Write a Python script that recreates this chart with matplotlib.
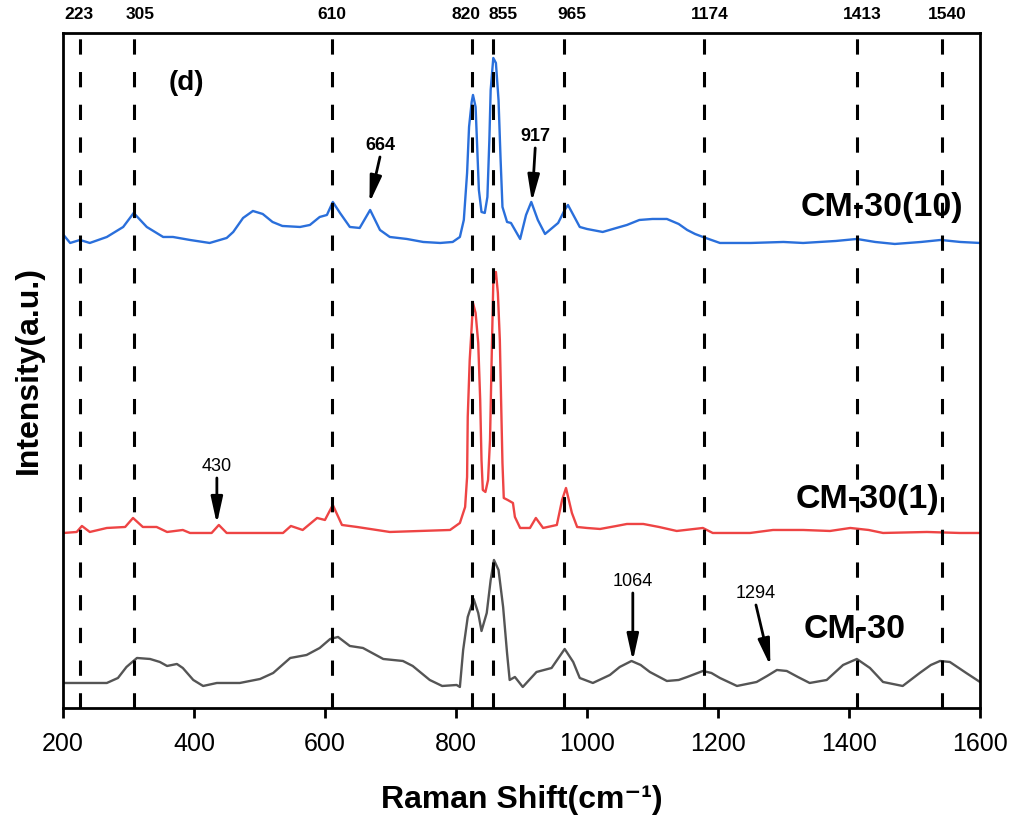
import numpy as np
import matplotlib
matplotlib.use('Agg')
import matplotlib.pyplot as plt

plt.rcParams['font.family'] = ['Liberation Sans', 'DejaVu Sans']

# Raman shift (cm-1) / stacked intensity (arbitrary units)
shift_10 = [201, 211, 226, 241, 267, 292, 308, 328, 353, 368, 394, 424, 450, 460, 475,
            490, 505, 520, 535, 562, 577, 592, 603, 612, 623, 638, 653, 669, 684, 699,
            725, 750, 776, 795, 806, 812, 817, 820, 824, 826, 830, 832, 835, 839, 844,
            848, 851, 853, 857, 861, 865, 868, 871, 878, 884, 898, 907, 915, 925, 936,
            956, 966, 971, 989, 1000, 1024, 1045, 1061, 1080, 1100, 1122, 1140, 1153,
            1165, 1177, 1190, 1203, 1250, 1300, 1330, 1380, 1412, 1440, 1470, 1510,
            1540, 1570, 1600]
int_10 = [473, 465, 468, 465, 471, 481, 495, 481, 471, 471, 468, 465, 470, 476, 490,
          497, 494, 486, 482, 481, 483, 491, 493, 506, 495, 481, 480, 498, 478, 471,
          469, 466, 465, 466, 471, 488, 535, 581, 606, 613, 601, 568, 518, 496, 495,
          511, 568, 618, 650, 645, 608, 551, 501, 486, 485, 469, 493, 506, 488, 474,
          485, 498, 503, 481, 479, 476, 480, 483, 488, 489, 489, 484, 478,
          474, 471, 468, 465, 465, 466, 465, 467, 469, 466, 464, 466,
          468, 466, 465]

shift_1 = [201, 221, 229, 241, 267, 295, 307, 322, 343, 359, 383, 394, 427, 438, 450,
           536, 548, 566, 588, 600, 612, 626, 649, 699, 791, 806, 814, 817, 818, 821,
           824, 826, 830, 834, 837, 839, 841, 845, 849, 852, 855, 857, 861, 864, 867,
           869, 871, 873, 879, 887, 890, 898, 913, 922, 933, 954, 962, 968, 977, 985,
           1000, 1020, 1045, 1061, 1086, 1110, 1137, 1177, 1192, 1249, 1284, 1330,
           1371, 1402, 1430, 1452, 1519, 1569, 1600]
int_1 = [175, 176, 182, 176, 180, 181, 190, 181, 181, 176, 178, 175, 175, 183, 175,
         175, 182, 178, 190, 188, 203, 183, 181, 176, 178, 185, 201, 231, 291, 348,
         381, 405, 395, 365, 308, 248, 218, 216, 228, 268, 365, 425, 436, 415, 368,
         305, 245, 210, 208, 205, 191, 180, 180, 190, 180, 183, 208, 220, 195, 181,
         180, 179, 182, 184, 184, 181, 177, 180, 175, 175, 178, 178,
         177, 180, 178, 175, 176, 175, 175]

shift_0 = [200, 226, 267, 284, 297, 313, 333, 348, 359, 374, 383, 399, 414, 435, 470,
           501, 521, 547, 572, 592, 608, 620, 638, 658, 689, 719, 734, 760, 779, 801,
           806, 811, 818, 827, 834, 839, 847, 853, 858, 865, 872, 878, 882, 890, 902,
           923, 946, 966, 979, 989, 1009, 1035, 1050, 1068, 1082, 1096, 1122, 1140,
           1153, 1177, 1190, 1203, 1229, 1259, 1275, 1290, 1305, 1322, 1340, 1366,
           1391, 1412, 1432, 1452, 1482, 1508, 1525, 1539, 1554, 1579, 1600]
int_0 = [25, 25, 25, 30, 41, 50, 49, 46, 42, 44, 40, 28, 22, 25, 25,
         29, 35, 50, 53, 60, 69, 71, 62, 60, 49, 47, 42, 28, 22, 23,
         21, 58, 91, 109, 95, 77, 95, 128, 148, 138, 101, 55, 28, 31, 21,
         36, 40, 59, 46, 30, 25, 33, 41, 47, 43, 36, 27, 28,
         31, 37, 35, 30, 22, 26, 32, 38, 37, 31, 25, 28,
         43, 49, 40, 26, 22, 35, 43, 47, 46, 35, 26]

# dashed reference lines and their labels above the frame
peak_lines = [226, 308, 611, 825, 856, 965, 1178, 1412, 1542]
peak_label_x = [224, 318, 611, 815, 872, 977, 1188, 1421, 1550]
peak_names = ['223', '305', '610', '820', '855', '965', '1174', '1413', '1540']

# annotated bands: label, arrow tail, arrow tip, bold
notes = [('664', (684, 551), (668, 505), True),
         ('917', (921, 560), (916, 506), True),
         ('430', (435, 230), (435, 184), False),
         ('1064', (1070, 115), (1070, 47), False),
         ('1294', (1258, 103), (1280, 42), False)]

fig = plt.figure(figsize=(10.15, 8.18), dpi=100)
ax = fig.add_axes([0.062, 0.1345, 0.9035, 0.8252])

ax.plot(shift_10, int_10, color='#2a6fdb', lw=1.7, zorder=2)
ax.plot(shift_1, int_1, color='#ee4444', lw=1.7, zorder=2)
ax.plot(shift_0, int_0, color='#555555', lw=1.7, zorder=2)

for x in peak_lines:
    ax.axvline(x, color='black', lw=2.2, linestyle=(0, (5, 5.7)), zorder=3)
for x, name in zip(peak_label_x, peak_names):
    ax.text(x, 1.016, name, transform=ax.get_xaxis_transform(), ha='center', va='bottom',
            fontsize=12.5, fontweight='bold')

for lab, tail, tip, bold in notes:
    ax.annotate('', xy=tip, xytext=tail,
                arrowprops=dict(arrowstyle='-|>,head_length=1.0,head_width=0.22',
                                color='black', lw=2, mutation_scale=16,
                                shrinkA=0, shrinkB=0),
                zorder=4)
    ax.text(tail[0], tail[1] + 3, lab, ha='center', va='bottom', fontsize=13,
            fontweight='bold' if bold else 'normal')

ax.text(389, 625, '(d)', ha='center', va='center', fontsize=20, fontweight='bold')
ax.text(1450, 500, 'CM-30(10)', ha='center', va='center', fontsize=24.5, fontweight='bold', zorder=1)
ax.text(1428, 208, 'CM-30(1)', ha='center', va='center', fontsize=24.5, fontweight='bold', zorder=1)
ax.text(1409, 78, 'CM-30', ha='center', va='center', fontsize=24.5, fontweight='bold', zorder=1)

ax.set_xlim(200, 1600)
ax.set_ylim(0, 675)
ax.set_xticks([200, 400, 600, 800, 1000, 1200, 1400, 1600])
ax.set_yticks([])
ax.tick_params(axis='x', direction='out', length=7, width=2, labelsize=18, pad=10)
for s in ax.spines.values():
    s.set_linewidth(2)

ax.set_xlabel('Raman Shift(cm\u207b\u00b9)', fontsize=23, fontweight='bold', labelpad=21)
ax.set_ylabel('Intensity(a.u.)', fontsize=23, fontweight='bold', labelpad=14)

fig.savefig('out.png', dpi=100)
